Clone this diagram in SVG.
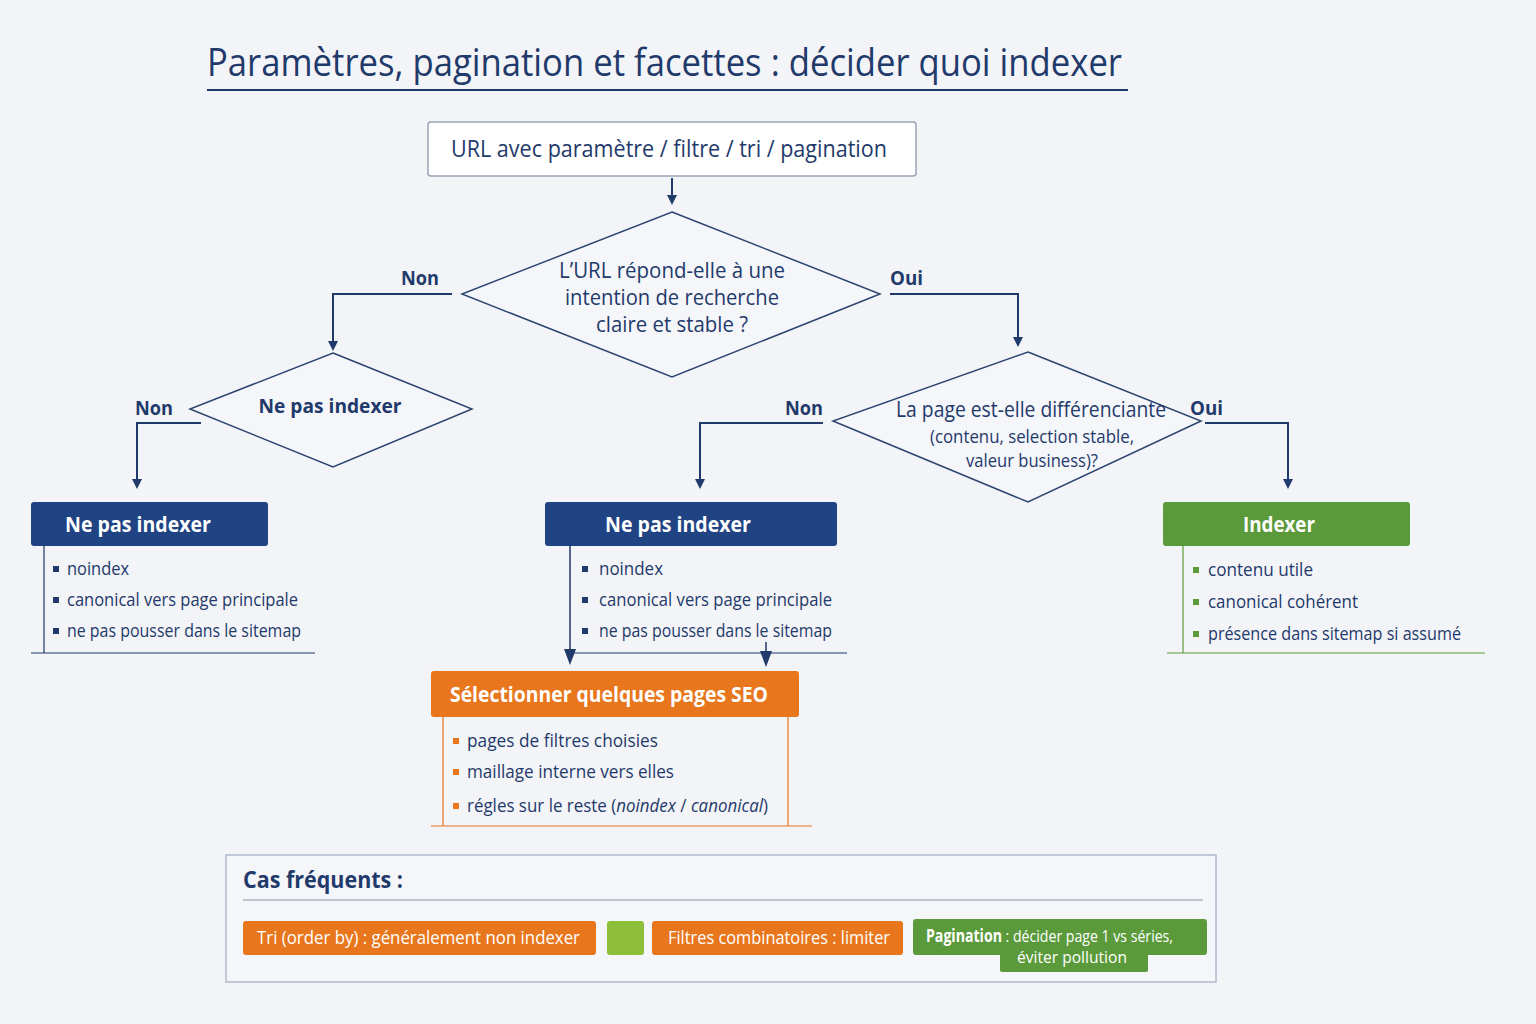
<svg xmlns="http://www.w3.org/2000/svg" width="1536" height="1024" viewBox="0 0 1536 1024">
<defs>
<marker id="ah" markerWidth="10" markerHeight="10" refX="5" refY="5" orient="auto" markerUnits="userSpaceOnUse"><path d="M0,0 L10,5 L0,10 z" fill="#1f3a6b"/></marker>
<marker id="ah2" markerWidth="16" markerHeight="12" refX="8" refY="6" orient="auto" markerUnits="userSpaceOnUse"><path d="M0,0 L16,6 L0,12 z" fill="#1f3a6b"/></marker>
</defs>
<style>
text{font-family:"Open Sans","Liberation Sans",sans-serif;fill:#1f3a6b}
.t{font-size:21px}
.b{font-size:18px}
.hd{font-size:21px;font-weight:bold;fill:#fff}
.ln{stroke:#1f3a6b;stroke-width:2;fill:none}
.dm{fill:#f5f6f9;stroke:#2c4470;stroke-width:1.5}
.lbl{font-size:20px;font-weight:bold}
.chip{font-size:18px;fill:#fff}
</style>
<rect width="1536" height="1024" fill="#f3f4f7"/>
<g id="title">
<text x="207" y="76" style="font-size:38px" textLength="915" lengthAdjust="spacingAndGlyphs">Paramètres, pagination et facettes : décider quoi indexer</text>
<line x1="207" y1="90" x2="1128" y2="90" stroke="#1f3a6b" stroke-width="2"/>
</g>
<g id="connectors">
<line class="ln" x1="672" y1="178" x2="672" y2="200" marker-end="url(#ah)"/>
<polyline class="ln" points="452,294 333,294 333,346" marker-end="url(#ah)"/>
<polyline class="ln" points="890,294 1018,294 1018,342" marker-end="url(#ah)"/>
<polyline class="ln" points="201,423 137,423 137,484" marker-end="url(#ah)"/>
<polyline class="ln" points="823,423 700,423 700,484" marker-end="url(#ah)"/>
<polyline class="ln" points="1205,423 1288,423 1288,484" marker-end="url(#ah)"/>
<line class="ln" x1="570" y1="546" x2="570" y2="657" marker-end="url(#ah2)" style="stroke-width:1.5"/>
<line class="ln" x1="766" y1="642" x2="766" y2="659" marker-end="url(#ah2)" style="stroke-width:1.5"/>
<text x="401" y="285" class="lbl" textLength="38" lengthAdjust="spacingAndGlyphs">Non</text>
<text x="890" y="285" class="lbl" textLength="33" lengthAdjust="spacingAndGlyphs">Oui</text>
<text x="135" y="415" class="lbl" textLength="38" lengthAdjust="spacingAndGlyphs">Non</text>
<text x="785" y="415" class="lbl" textLength="38" lengthAdjust="spacingAndGlyphs">Non</text>
<text x="1190" y="415" class="lbl" textLength="33" lengthAdjust="spacingAndGlyphs">Oui</text>
</g>
<g id="start">
<rect x="428" y="122" width="488" height="54" rx="3" fill="#fff" stroke="#9aa3b5" stroke-width="1.5"/>
<text x="451" y="157" style="font-size:23px" textLength="436" lengthAdjust="spacingAndGlyphs">URL avec paramètre / filtre / tri / pagination</text>
</g>
<g id="d1">
<polygon class="dm" points="672,212 880,294 672,377 462,294"/>
<text x="672" y="278" text-anchor="middle" class="t" textLength="226" lengthAdjust="spacingAndGlyphs">L’URL répond-elle à une</text>
<text x="672" y="305" text-anchor="middle" class="t" textLength="214" lengthAdjust="spacingAndGlyphs">intention de recherche</text>
<text x="672" y="332" text-anchor="middle" class="t" textLength="152" lengthAdjust="spacingAndGlyphs">claire et stable ?</text>
</g>
<g id="d2">
<polygon class="dm" points="333,353 472,409 333,467 190,409"/>
<text x="330" y="413" text-anchor="middle" class="lbl" textLength="143" lengthAdjust="spacingAndGlyphs">Ne pas indexer</text>
</g>
<g id="d3">
<polygon class="dm" points="1028,352 1201,421 1028,502 833,421"/>
<text x="1031" y="417" text-anchor="middle" class="t" textLength="270" lengthAdjust="spacingAndGlyphs">La page est-elle différenciante</text>
<text x="1032" y="443" text-anchor="middle" class="b" textLength="204" lengthAdjust="spacingAndGlyphs">(contenu, selection stable,</text>
<text x="1032" y="467" text-anchor="middle" class="b" textLength="132" lengthAdjust="spacingAndGlyphs">valeur business)?</text>
</g>
<g id="noindexA">
<rect x="31" y="502" width="237" height="44" rx="3" fill="#1f4383"/>
<text x="138" y="532" text-anchor="middle" class="hd" textLength="146" lengthAdjust="spacingAndGlyphs">Ne pas indexer</text>
<path d="M44,546 V653 M31,653 H315" stroke="#1f3a6b" stroke-width="1.2" fill="none"/>
<rect x="53" y="566" width="6" height="6" fill="#1f3a6b"/><text x="67" y="575" class="b" textLength="62" lengthAdjust="spacingAndGlyphs">noindex</text>
<rect x="53" y="597" width="6" height="6" fill="#1f3a6b"/><text x="67" y="606" class="b" textLength="231" lengthAdjust="spacingAndGlyphs">canonical vers page principale</text>
<rect x="53" y="628" width="6" height="6" fill="#1f3a6b"/><text x="67" y="637" class="b" textLength="234" lengthAdjust="spacingAndGlyphs">ne pas pousser dans le sitemap</text>
</g>
<g id="noindexB">
<rect x="545" y="502" width="292" height="44" rx="3" fill="#1f4383"/>
<text x="678" y="532" text-anchor="middle" class="hd" textLength="146" lengthAdjust="spacingAndGlyphs">Ne pas indexer</text>
<path d="M570,653 H847" stroke="#1f3a6b" stroke-width="1.2" fill="none"/>
<rect x="582" y="566" width="6" height="6" fill="#1f3a6b"/><text x="599" y="575" class="b" textLength="64" lengthAdjust="spacingAndGlyphs">noindex</text>
<rect x="582" y="597" width="6" height="6" fill="#1f3a6b"/><text x="599" y="606" class="b" textLength="233" lengthAdjust="spacingAndGlyphs">canonical vers page principale</text>
<rect x="582" y="628" width="6" height="6" fill="#1f3a6b"/><text x="599" y="637" class="b" textLength="233" lengthAdjust="spacingAndGlyphs">ne pas pousser dans le sitemap</text>
</g>
<g id="indexer">
<rect x="1163" y="502" width="247" height="44" rx="3" fill="#5a9a3a"/>
<text x="1279" y="532" text-anchor="middle" class="hd" textLength="72" lengthAdjust="spacingAndGlyphs">Indexer</text>
<path d="M1183,546 V653 M1167,653 H1485" stroke="#5a9a3a" stroke-width="1.2" fill="none"/>
<rect x="1193" y="567" width="6" height="6" fill="#5a9a3a"/><text x="1208" y="576" class="b" textLength="105" lengthAdjust="spacingAndGlyphs">contenu utile</text>
<rect x="1193" y="599" width="6" height="6" fill="#5a9a3a"/><text x="1208" y="608" class="b" textLength="150" lengthAdjust="spacingAndGlyphs">canonical cohérent</text>
<rect x="1193" y="631" width="6" height="6" fill="#5a9a3a"/><text x="1208" y="640" class="b" textLength="253" lengthAdjust="spacingAndGlyphs">présence dans sitemap si assumé</text>
</g>
<g id="seo">
<rect x="431" y="671" width="368" height="46" rx="3" fill="#e8761c"/>
<text x="450" y="702" class="hd" textLength="318" lengthAdjust="spacingAndGlyphs">Sélectionner quelques pages SEO</text>
<path d="M443,717 V826 M788,717 V826 M431,826 H812" stroke="#e8761c" stroke-width="1.2" fill="none"/>
<rect x="453" y="738" width="6" height="6" fill="#e8761c"/><text x="467" y="747" class="b" textLength="191" lengthAdjust="spacingAndGlyphs">pages de filtres choisies</text>
<rect x="453" y="769" width="6" height="6" fill="#e8761c"/><text x="467" y="778" class="b" textLength="207" lengthAdjust="spacingAndGlyphs">maillage interne vers elles</text>
<rect x="453" y="803" width="6" height="6" fill="#e8761c"/><text x="467" y="812" class="b" textLength="301" lengthAdjust="spacingAndGlyphs">régles sur le reste (<tspan font-style="italic">noindex</tspan> / <tspan font-style="italic">canonical</tspan>)</text>
</g>
<g id="cas">
<rect x="226" y="855" width="990" height="127" fill="#f5f6f9" stroke="#b0b8cc" stroke-width="1.5"/>
<text x="243" y="888" style="font-size:23px;font-weight:bold" textLength="160" lengthAdjust="spacingAndGlyphs">Cas fréquents :</text>
<line x1="243" y1="900" x2="1203" y2="900" stroke="#8a93a6" stroke-width="1.2"/>
<rect x="243" y="921" width="353" height="34" rx="3" fill="#e8761c"/>
<text x="257" y="944" class="chip" textLength="323" lengthAdjust="spacingAndGlyphs">Tri (order by) : généralement non indexer</text>
<rect x="607" y="921" width="37" height="34" rx="3" fill="#8dbf3a"/>
<rect x="652" y="921" width="251" height="34" rx="3" fill="#e8761c"/>
<text x="668" y="944" class="chip" textLength="222" lengthAdjust="spacingAndGlyphs">Filtres combinatoires : limiter</text>
<rect x="913" y="919" width="294" height="36" rx="3" fill="#5a9a3a"/>
<rect x="1000" y="945" width="148" height="27" rx="2" fill="#5a9a3a"/>
<text x="926" y="942" class="chip" style="font-size:17px" textLength="247" lengthAdjust="spacingAndGlyphs"><tspan font-weight="bold">Pagination</tspan> : décider page 1 vs séries,</text>
<text x="1017" y="963" class="chip" style="font-size:17px" textLength="110" lengthAdjust="spacingAndGlyphs">éviter pollution</text>
</g>
</svg>
